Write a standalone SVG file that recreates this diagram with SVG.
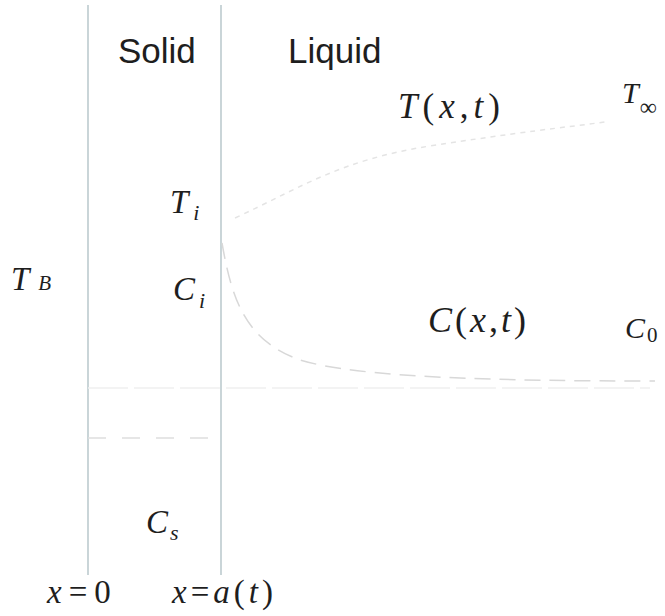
<svg xmlns="http://www.w3.org/2000/svg" width="665" height="616" viewBox="0 0 665 616">
<style>
.lbl{font-family:"Liberation Sans",Arial,sans-serif;fill:#1e1e1e}
.m{font-family:"Times New Roman","Liberation Serif",serif;fill:#1e1e1e}
.it{font-style:italic}
.wall{stroke:#adbfc3;stroke-width:1.3;fill:none}
.curve{stroke-width:1.5;fill:none}
</style>
<rect width="665" height="616" fill="#ffffff"/>
<g id="walls">
<line class="wall" x1="88" y1="5" x2="88" y2="575"/>
<line class="wall" x1="221" y1="5" x2="221" y2="575"/>
</g>
<g id="connectors">
<path class="curve" d="M 235 218 C 300 188, 340 160, 430 146 S 560 128, 605 122" stroke-dasharray="5 5" stroke="#e4e4e4"/>
<path class="curve" d="M 222 243 C 232 300, 245 340, 300 360 C 360 378, 500 381, 655 381" stroke-dasharray="16 9" stroke="#d8d8d8"/>
<line class="curve" x1="88" y1="388" x2="650" y2="388" stroke="#f0f0f0" stroke-dasharray="40 6"/>
<line class="curve" x1="88" y1="438" x2="221" y2="438" stroke="#dedede" stroke-dasharray="18 16"/>
</g>
<g id="solid"><text class="lbl" x="118" y="63" font-size="35">Solid</text></g>
<g id="liquid"><text class="lbl" x="288" y="63" font-size="35">Liquid</text></g>
<g id="Txt"><text class="m" x="398" y="118" font-size="35" letter-spacing="5"><tspan class="it">T</tspan>(<tspan class="it">x</tspan>,<tspan class="it">t</tspan>)</text></g>
<g id="Tinf"><text class="m" x="622" y="103" font-size="30"><tspan class="it">T</tspan><tspan font-size="24" dx="1" dy="12">∞</tspan></text></g>
<g id="Ti"><text class="m" x="170" y="213" font-size="33"><tspan class="it">T</tspan><tspan class="it" font-size="22" dx="5" dy="7">i</tspan></text></g>
<g id="TB"><text class="m" x="11" y="290" font-size="33"><tspan class="it">T</tspan><tspan class="it" font-size="21" dx="9">B</tspan></text></g>
<g id="Ci"><text class="m" x="173" y="300" font-size="33"><tspan class="it">C</tspan><tspan class="it" font-size="22" dx="4" dy="8">i</tspan></text></g>
<g id="Cxt"><text class="m" x="428" y="332" font-size="36" letter-spacing="3"><tspan class="it">C</tspan>(<tspan class="it">x</tspan>,<tspan class="it">t</tspan>)</text></g>
<g id="C0"><text class="m" x="625" y="338" font-size="30"><tspan class="it">C</tspan><tspan font-size="21" dx="2" dy="4">0</tspan></text></g>
<g id="Cs"><text class="m" x="146" y="533" font-size="33"><tspan class="it">C</tspan><tspan class="it" font-size="22" dx="2" dy="7">s</tspan></text></g>
<g id="x0"><text class="m" x="47" y="603" font-size="33" letter-spacing="7"><tspan class="it">x</tspan>=0</text></g>
<g id="xa"><text class="m" x="172" y="603" font-size="33" letter-spacing="4"><tspan class="it">x</tspan>=<tspan class="it">a</tspan>(<tspan class="it">t</tspan>)</text></g>
</svg>
